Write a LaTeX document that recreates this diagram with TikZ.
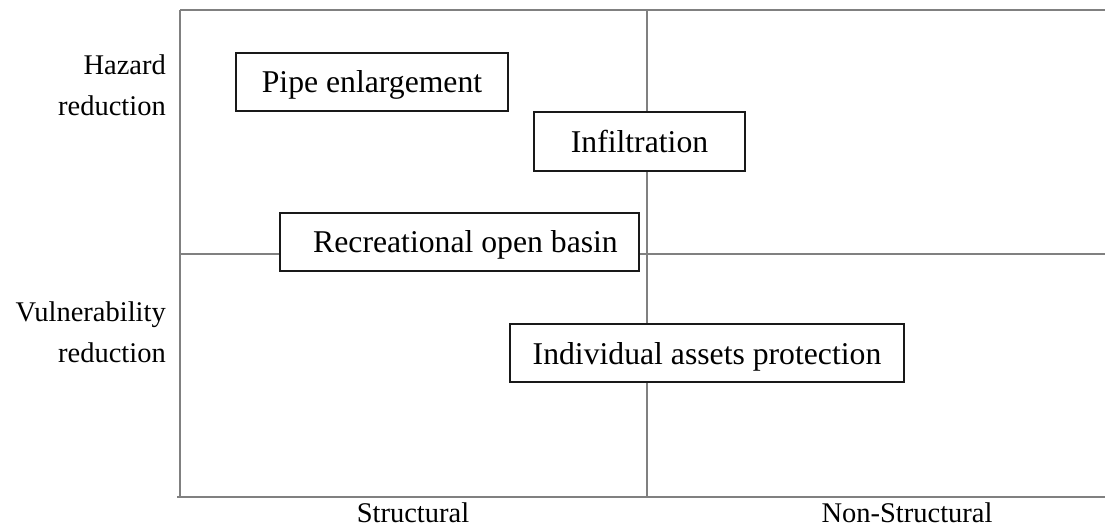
\documentclass[tikz,border=0pt]{standalone}
\usepackage{fontspec}
\setmainfont{Liberation Serif}
\tikzset{
  axisline/.style={draw=black!50, line width=1.7pt},
  optbox/.style={draw=black!90, line width=1.9pt, fill=white, rectangle, inner sep=0pt,
    text height=22pt, text depth=0pt,
    font=\fontsize{31.7}{38}\selectfont},
  axlabel/.style={font=\fontsize{28.5}{41}\selectfont, inner sep=0pt},
}
\begin{document}
\begin{tikzpicture}[x=1pt,y=-1pt]
\useasboundingbox (0,0) rectangle (1105,529);
% frame coordinates
\coordinate (tl) at (180,10);
\coordinate (tr) at (1105,10);
\coordinate (bl) at (177,497);
\coordinate (lb) at (180,497);
\coordinate (br) at (1105,497);
\coordinate (mt) at (647,10);
\coordinate (mb) at (647,497);
\coordinate (ml) at (180,254);
\coordinate (mr) at (1105,254);
\draw[axisline] (tl) -- (tr);
\draw[axisline] (tl) -- (lb);
\draw[axisline] (bl) -- (br);
\draw[axisline] (mt) -- (mb);
\draw[axisline] (ml) -- (mr);
% boxes
\node[optbox, minimum width=272pt, minimum height=58pt] (pipe) at (372,82) {Pipe enlargement};
\node[optbox, minimum width=211pt, minimum height=59pt] (infil) at (639.5,141.5) {Infiltration};
\node[optbox, minimum width=359pt, minimum height=58pt] (basin) at (459.5,242) {\hspace*{12pt}Recreational open basin};
\node[optbox, minimum width=394pt, minimum height=58pt] (assets) at (707,353) {Individual assets protection};
% axis labels
\node[axlabel, anchor=base east, align=right] (haz) at (166,116) {Hazard\\reduction};
\node[axlabel, anchor=base east, align=right] (vul) at (166,362) {Vulnerability\\reduction};
\node[axlabel, anchor=base] (struct) at (413,522) {Structural};
\node[axlabel, anchor=base] (nonstruct) at (907,522) {Non-Structural};
\end{tikzpicture}
\end{document}
